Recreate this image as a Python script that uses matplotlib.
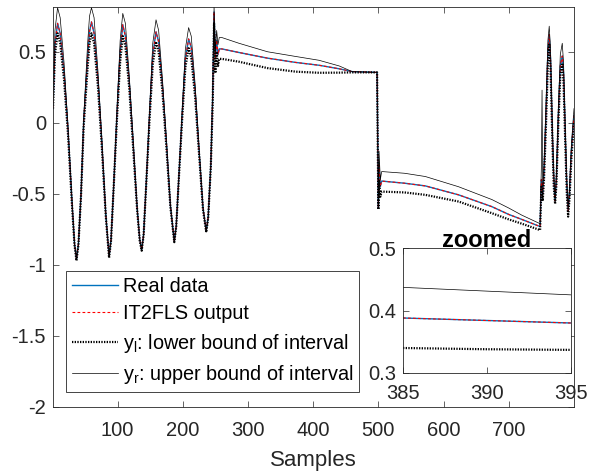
import matplotlib
matplotlib.use("Agg")
import matplotlib.pyplot as plt

plt.rcParams['font.family'] = ['Liberation Sans', 'DejaVu Sans']
plt.rcParams['mathtext.fontset'] = 'custom'
plt.rcParams['mathtext.rm'] = 'Liberation Sans'

samples = [1, 4, 8, 12, 18, 24, 30, 34, 37, 40,
           44, 48, 54, 57, 60, 64, 70, 76, 82, 87,
           90, 94, 99, 104, 108, 112, 118, 124, 130, 134,
           137, 140, 144, 149, 154, 159, 163, 169, 175, 181,
           187, 190, 194, 199, 204, 209, 213, 219, 225, 231,
           236, 239, 243, 246, 248, 250, 252, 254, 256,
           260, 286, 330, 373, 409, 440, 460, 498,
           500, 501, 503, 505, 540, 572, 623, 674, 700, 720, 748,
           750, 751, 752, 754, 757, 760, 762, 764, 767, 769,
           771, 773, 776, 779, 782, 784, 787, 789, 791, 793,
           796, 800]

real_data = [0.10, 0.55, 0.70, 0.63, 0.35, -0.05, -0.55, -0.85, -0.96, -0.85,
             -0.50, 0.00, 0.45, 0.64, 0.71, 0.63, 0.30, -0.15, -0.65, -0.94,
             -0.82, -0.45, 0.05, 0.50, 0.69, 0.61, 0.28, -0.15, -0.60, -0.82,
             -0.895, -0.78, -0.42, 0.05, 0.48, 0.64, 0.57, 0.25, -0.15, -0.58,
             -0.835, -0.72, -0.38, 0.05, 0.45, 0.59, 0.53, 0.22, -0.20, -0.60,
             -0.76, -0.66, -0.30, 0.20, 0.78, 0.45, 0.58, 0.48, 0.52,
             0.52, 0.495, 0.455, 0.425, 0.405, 0.38, 0.36, 0.355,
             -0.60, -0.30, -0.45, -0.41, -0.425, -0.444, -0.507, -0.59, -0.645, -0.68, -0.73,
             -0.40, -0.45, -0.50, -0.35, 0.05, 0.50, 0.62, 0.45, -0.10, -0.40,
             -0.55, -0.40, 0.05, 0.40, 0.47, 0.35, -0.15, -0.45, -0.62, -0.50,
             -0.20, 0.05]

it2fls_out = [0.10, 0.55, 0.70, 0.63, 0.35, -0.05, -0.55, -0.85, -0.96, -0.85,
              -0.50, 0.00, 0.45, 0.64, 0.71, 0.63, 0.30, -0.15, -0.65, -0.94,
              -0.82, -0.45, 0.05, 0.50, 0.69, 0.61, 0.28, -0.15, -0.60, -0.82,
              -0.895, -0.78, -0.42, 0.05, 0.48, 0.64, 0.57, 0.25, -0.15, -0.58,
              -0.835, -0.72, -0.38, 0.05, 0.45, 0.59, 0.53, 0.22, -0.20, -0.60,
              -0.76, -0.66, -0.30, 0.20, 0.78, 0.45, 0.58, 0.48, 0.52,
              0.52, 0.495, 0.455, 0.425, 0.405, 0.38, 0.36, 0.355,
              -0.60, -0.30, -0.45, -0.41, -0.425, -0.444, -0.507, -0.59, -0.645, -0.68, -0.73,
              -0.40, -0.45, -0.50, -0.35, 0.05, 0.50, 0.62, 0.45, -0.10, -0.40,
              -0.55, -0.40, 0.05, 0.40, 0.47, 0.35, -0.15, -0.45, -0.62, -0.50,
              -0.20, 0.05]

lower_bound = [0.10, 0.48, 0.63, 0.56, 0.30, -0.08, -0.57, -0.86, -0.97, -0.86,
               -0.51, -0.03, 0.38, 0.56, 0.63, 0.56, 0.25, -0.18, -0.66, -0.95,
               -0.83, -0.46, 0.02, 0.43, 0.61, 0.54, 0.24, -0.18, -0.61, -0.83,
               -0.90, -0.79, -0.43, 0.02, 0.41, 0.57, 0.50, 0.21, -0.18, -0.59,
               -0.84, -0.73, -0.39, 0.02, 0.39, 0.525, 0.46, 0.18, -0.22, -0.61,
               -0.77, -0.67, -0.31, 0.15, 0.70, 0.35, 0.50, 0.40, 0.45,
               0.45, 0.43, 0.385, 0.36, 0.352, 0.353, 0.355, 0.355,
               -0.61, -0.40, -0.52, -0.484, -0.49, -0.507, -0.554, -0.636, -0.68, -0.71, -0.755,
               -0.45, -0.50, -0.55, -0.40, -0.02, 0.42, 0.55, 0.38, -0.15, -0.45,
               -0.57, -0.44, 0.00, 0.33, 0.42, 0.28, -0.20, -0.50, -0.66, -0.54,
               -0.25, 0.00]

upper_bound = [0.12, 0.65, 0.81, 0.74, 0.42, -0.02, -0.53, -0.85, -0.96, -0.86,
               -0.50, 0.03, 0.55, 0.75, 0.81, 0.74, 0.36, -0.12, -0.64, -0.94,
               -0.83, -0.45, 0.08, 0.58, 0.77, 0.70, 0.33, -0.12, -0.59, -0.82,
               -0.90, -0.79, -0.42, 0.08, 0.56, 0.725, 0.65, 0.30, -0.12, -0.57,
               -0.84, -0.73, -0.38, 0.08, 0.52, 0.67, 0.61, 0.27, -0.17, -0.59,
               -0.77, -0.67, -0.30, 0.25, 0.82, 0.50, 0.65, 0.55, 0.60,
               0.60, 0.56, 0.50, 0.467, 0.44, 0.40, 0.36, 0.355,
               -0.60, -0.20, -0.40, -0.343, -0.355, -0.378, -0.45, -0.54, -0.60, -0.65, -0.71,
               -0.30, 0.23, -0.45, -0.30, 0.12, 0.58, 0.68, 0.52, -0.05, -0.35,
               -0.53, -0.36, 0.10, 0.48, 0.56, 0.42, -0.08, -0.40, -0.60, -0.47,
               -0.15, 0.10]

zoom_samples = [385, 390, 395]
zoom_real = [0.388, 0.384, 0.380]
zoom_it2fls = [0.388, 0.384, 0.380]
zoom_lower = [0.340, 0.338, 0.337]
zoom_upper = [0.437, 0.431, 0.425]

x_ticks = [100, 200, 300, 400, 500, 600, 700]
y_ticks = [-2, -1.5, -1, -0.5, 0, 0.5]
y_tick_labels = ['-2', '-1.5', '-1', '-0.5', '0', '0.5']
zoom_x_ticks = [385, 390, 395]
zoom_y_ticks = [0.3, 0.4, 0.5]
zoom_y_tick_labels = ['0.3', '0.4', '0.5']

labels = ['Real data', 'IT2FLS output',
          r'$\mathregular{y_l}$: lower bound of interval',
          r'$\mathregular{y_r}$: upper bound of interval']

TC = '#262626'
BLUE = '#0072BD'
TICK_FS = 14.5

fig = plt.figure(figsize=(5.91, 4.74), dpi=100)
ax = fig.add_axes([53/591, 1-407/474, (574-53)/591, (407-7)/474])


def draw(a, x, r, it, lo, up, lbl=None):
    a.plot(x, r, color=BLUE, lw=1.0, label=lbl[0] if lbl else None)
    a.plot(x, it, color='#FF0000', lw=0.8, ls=(0, (2.5, 2)), label=lbl[1] if lbl else None)
    a.plot(x, lo, color='black', lw=1.6, ls=(0, (0.6, 0.6)), label=lbl[2] if lbl else None)
    a.plot(x, up, color='black', lw=0.5, ls='-', label=lbl[3] if lbl else None)


draw(ax, samples, real_data, it2fls_out, lower_bound, upper_bound, labels)
ax.set_xlim(1, 800)
ax.set_ylim(-2, 0.815)
ax.set_xticks(x_ticks)
ax.set_yticks(y_ticks)
ax.set_yticklabels(y_tick_labels)
ax.tick_params(direction='in', top=True, right=True, labelsize=TICK_FS,
               colors=TC, length=4, width=0.5)
ax.tick_params(axis='x', pad=10)
ax.tick_params(axis='y', pad=5)
for s in ax.spines.values():
    s.set_color(TC)
    s.set_linewidth(0.6)
ax.set_xlabel('Samples', fontsize=16, color=TC, labelpad=7)

leg = ax.legend(loc='lower left', bbox_to_anchor=(66/591, 1-392/474),
                bbox_transform=fig.transFigure, fontsize=14.3, frameon=True,
                fancybox=False, framealpha=1, edgecolor=TC, handlelength=2.3,
                handletextpad=0.25, borderpad=0.3, labelspacing=0.42, borderaxespad=0)
leg.get_frame().set_linewidth(0.6)

axz = fig.add_axes([403/591, 1-373/474, 168/591, 125/474])
draw(axz, zoom_samples, zoom_real, zoom_it2fls, zoom_lower, zoom_upper)
axz.set_xlim(385, 395)
axz.set_ylim(0.3, 0.5)
axz.set_xticks(zoom_x_ticks)
axz.set_yticks(zoom_y_ticks)
axz.set_yticklabels(zoom_y_tick_labels)
axz.tick_params(direction='in', top=True, right=True, labelsize=TICK_FS,
                colors=TC, length=4, width=0.5)
axz.tick_params(axis='x', pad=8)
axz.tick_params(axis='y', pad=5)
for s in axz.spines.values():
    s.set_color(TC)
    s.set_linewidth(0.6)
axz.set_title('zoomed', fontsize=17, fontweight='bold', pad=1)

fig.savefig('out.png', dpi=100)
